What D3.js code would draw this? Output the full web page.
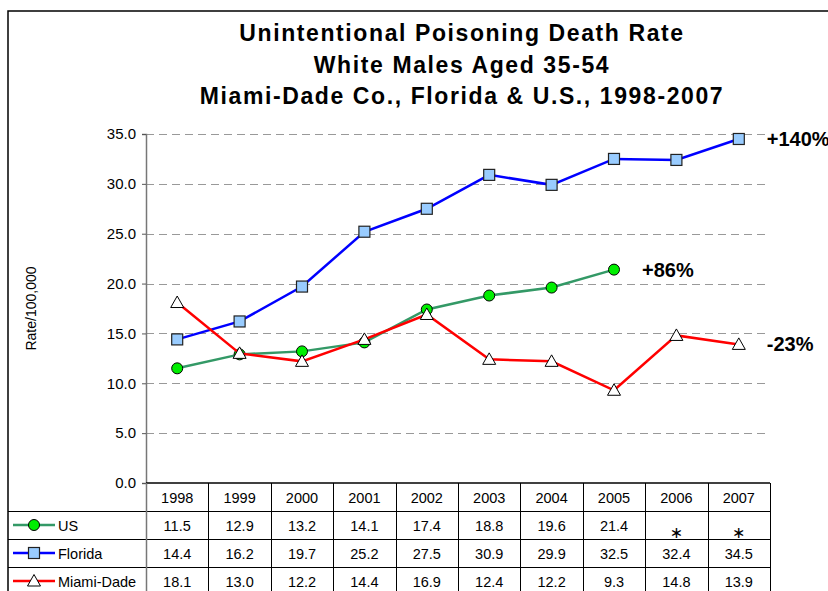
<!DOCTYPE html>
<html>
<head>
<meta charset="utf-8">
<script src="https://cdn.jsdelivr.net/npm/d3@7"></script>
<style>
  body { margin: 0; background: #fff; }
  svg { font-family: "Liberation Sans", Arial, sans-serif; }
</style>
</head>
<body>
<div id="chart"></div>
<script>
// data
var years = ["1998","1999","2000","2001","2002","2003","2004","2005","2006","2007"];
var usRate = [11.5, 12.9, 13.2, 14.1, 17.4, 18.8, 19.6, 21.4, null, null];
var floridaRate = [14.4, 16.2, 19.7, 25.2, 27.5, 30.9, 29.9, 32.5, 32.4, 34.5];
var miamiRate = [18.1, 13.0, 12.2, 14.4, 16.9, 12.4, 12.2, 9.3, 14.8, 13.9];
var yTicks = [0, 5, 10, 15, 20, 25, 30, 35];
var titleLines = ["Unintentional Poisoning Death Rate", "White Males Aged 35-54", "Miami-Dade Co., Florida & U.S., 1998-2007"];
var changeLabels = [
  { series: "Florida", text: "+140%" },
  { series: "US", text: "+86%" },
  { series: "Miami-Dade", text: "-23%" }
];

var series = [
  { name: "US", values: usRate, color: "#339966", shape: "circle" },
  { name: "Florida", values: floridaRate, color: "#0000ff", shape: "square" },
  { name: "Miami-Dade", values: miamiRate, color: "#ff0000", shape: "triangle" }
];

var W = 828, H = 591;
var svg = d3.select("#chart").append("svg").attr("width", W).attr("height", H);

var plotLeft = 146, plotRight = 770, plotTop = 134, plotBottom = 483;
var rowH = 28;

var x = d3.scaleBand().domain(years).range([plotLeft, plotRight]);
var y = d3.scaleLinear().domain([0, 35]).range([plotBottom, plotTop]);

// outer border
svg.append("path").attr("d", "M8," + H + "V11H" + W)
  .attr("fill", "none").attr("stroke", "#000").attr("stroke-width", 1.5);

// title
svg.append("g").selectAll("text").data(titleLines).enter().append("text")
  .attr("x", 462).attr("y", function (d, i) { return 41 + i * 31.5; })
  .attr("text-anchor", "middle")
  .style("font-size", "23px").style("font-weight", "bold").style("letter-spacing", "1.6px")
  .text(function (d) { return d; });

// gridlines
svg.append("g").selectAll("line").data(yTicks.slice(1)).enter().append("line")
  .attr("x1", plotLeft).attr("x2", plotRight)
  .attr("y1", function (d) { return Math.round(y(d)) + 0.5; })
  .attr("y2", function (d) { return Math.round(y(d)) + 0.5; })
  .attr("stroke", "#999").attr("stroke-dasharray", "8,5");

// y axis
var yAxis = d3.axisLeft(y).tickValues(yTicks).tickFormat(d3.format(".1f")).tickSize(4).tickPadding(6);
var ga = svg.append("g").attr("transform", "translate(" + plotLeft + ",0)").call(yAxis);
ga.select(".domain").attr("stroke", "#777").attr("stroke-width", 1.5);
ga.selectAll(".tick line").attr("stroke", "#555");
ga.selectAll(".tick text").style("font-size", "15px").attr("fill", "#000")
  .style("font-family", "Liberation Sans, Arial, sans-serif");

// axis title
svg.append("text")
  .attr("transform", "translate(36," + ((plotTop + plotBottom) / 2) + ") rotate(-90)")
  .attr("text-anchor", "middle").style("font-size", "14px")
  .text("Rate/100,000");

// table
var tbl = svg.append("g");
var tableBottom = plotBottom + rowH * 4;
tbl.append("line").attr("x1", plotLeft).attr("x2", plotRight).attr("y1", plotBottom).attr("y2", plotBottom)
  .attr("stroke", "#000").attr("stroke-width", 1.5);
for (var r = 1; r <= 3; r++) {
  tbl.append("line").attr("x1", 8).attr("x2", plotRight)
    .attr("y1", plotBottom + rowH * r + 0.5).attr("y2", plotBottom + rowH * r + 0.5)
    .attr("stroke", "#000");
}
tbl.selectAll(".vline").data(years.concat(["end"])).enter().append("line")
  .attr("x1", function (d, i) { return Math.round(plotLeft + i * x.bandwidth()) + 0.5; })
  .attr("x2", function (d, i) { return Math.round(plotLeft + i * x.bandwidth()) + 0.5; })
  .attr("y1", plotBottom).attr("y2", tableBottom)
  .attr("stroke", function (d, i) { return i === 0 ? "#777" : "#000"; })
  .attr("stroke-width", function (d, i) { return i === 0 ? 1.5 : 1; });

tbl.selectAll(".yr").data(years).enter().append("text")
  .attr("x", function (d) { return x(d) + x.bandwidth() / 2; })
  .attr("y", plotBottom + 20)
  .attr("text-anchor", "middle").style("font-size", "14.5px")
  .text(function (d) { return d; });

series.forEach(function (s, si) {
  var rowY = plotBottom + rowH * (si + 1);
  tbl.selectAll(".v" + si).data(s.values).enter().append("text")
    .attr("x", function (d, i) { return x(years[i]) + x.bandwidth() / 2; })
    .attr("y", function (d) { return d == null ? rowY + 27 : rowY + 20; })
    .attr("text-anchor", "middle")
    .style("font-family", function (d) { return d == null ? "DejaVu Sans, sans-serif" : null; })
    .style("font-size", function (d) { return d == null ? "16px" : "14.5px"; })
    .text(function (d) { return d == null ? "\u2217" : d.toFixed(1); });
  // legend key
  var ly = rowY + 14;
  tbl.append("line").attr("x1", 13).attr("x2", 55).attr("y1", ly).attr("y2", ly)
    .attr("stroke", s.color).attr("stroke-width", 2.5);
  drawMarker(tbl, s.shape, 34, ly);
  tbl.append("text").attr("x", 58).attr("y", rowY + 20).style("font-size", "14.5px").text(s.name);
});

function drawMarker(g, shape, cx, cy) {
  if (shape === "circle") {
    g.append("circle").attr("cx", cx).attr("cy", cy).attr("r", 5.5)
      .attr("fill", "#00ee00").attr("stroke", "#000").attr("stroke-width", 1);
  } else if (shape === "square") {
    g.append("rect").attr("x", cx - 5.5).attr("y", cy - 5.5).attr("width", 11).attr("height", 11)
      .attr("fill", "#99ccff").attr("stroke", "#222").attr("stroke-width", 1.2);
  } else {
    g.append("path").attr("d", "M" + cx + "," + (cy - 6.5) + "L" + (cx + 6.5) + "," + (cy + 5) + "L" + (cx - 6.5) + "," + (cy + 5) + "Z")
      .attr("fill", "#fff").attr("stroke", "#000").attr("stroke-width", 1);
  }
}

// lines and markers
var line = d3.line()
  .defined(function (d) { return d != null; })
  .x(function (d, i) { return x(years[i]) + x.bandwidth() / 2; })
  .y(function (d) { return y(d); });

series.forEach(function (s) {
  var g = svg.append("g");
  g.append("path").datum(s.values).attr("d", line)
    .attr("fill", "none").attr("stroke", s.color).attr("stroke-width", 2.5);
  s.values.forEach(function (v, i) {
    if (v == null) return;
    drawMarker(g, s.shape, x(years[i]) + x.bandwidth() / 2, y(v));
  });
});

// change labels next to last point
changeLabels.forEach(function (c) {
  var s = series.filter(function (d) { return d.name === c.series; })[0];
  var last = -1;
  s.values.forEach(function (v, i) { if (v != null) last = i; });
  svg.append("text")
    .attr("x", x(years[last]) + x.bandwidth() / 2 + 28)
    .attr("y", y(s.values[last]) + 7)
    .style("font-size", "20px").style("font-weight", "bold")
    .text(c.text);
});
</script>
</body>
</html>
